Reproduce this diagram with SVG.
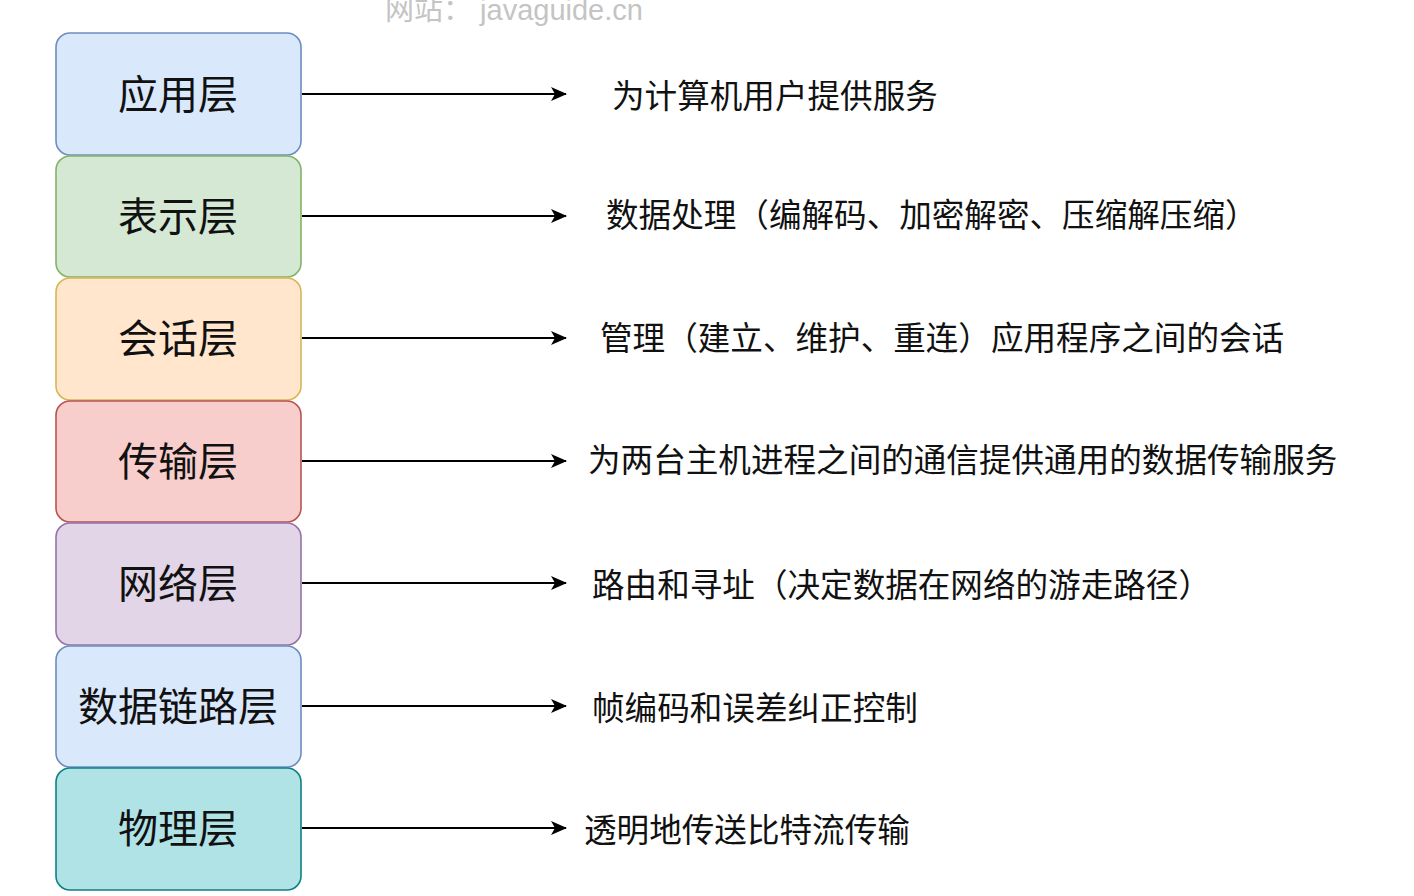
<svg xmlns="http://www.w3.org/2000/svg" width="1414" height="896" viewBox="0 0 1414 896">
<defs>
<marker id="ah" viewBox="0 0 16 14" refX="15" refY="7" markerWidth="16" markerHeight="14" markerUnits="userSpaceOnUse" orient="auto">
<path d="M0,0 L16,7 L0,14 L4,7 Z" fill="#000"/>
</marker>
</defs>
<style>
.box{stroke-width:1.6}
.lbl{font-family:"Noto Sans CJK SC","Noto Sans",sans-serif;font-size:40px;fill:#111;text-anchor:middle;dominant-baseline:central}
.desc{font-family:"Noto Sans CJK SC","Noto Sans",sans-serif;font-size:32.6px;fill:#111;dominant-baseline:central}
.wm{font-family:"Liberation Sans","Noto Sans CJK SC",sans-serif;font-size:29px;fill:#c4c4c4}
.conn{stroke:#000;stroke-width:2;fill:none;marker-end:url(#ah)}
</style>
<rect width="1414" height="896" fill="#fff"/>
<text class="wm" x="385" y="20">网站： javaguide.cn</text>
<g id="n1"><rect class="box" x="56" y="33" width="245" height="122" rx="14" fill="#dae8fc" stroke="#6c8ebf"/><text class="lbl" x="178" y="92">应用层</text></g>
<g id="n2"><rect class="box" x="56" y="156" width="245" height="121" rx="14" fill="#d5e8d4" stroke="#82b366"/><text class="lbl" x="178" y="214">表示层</text></g>
<g id="n3"><rect class="box" x="56" y="278" width="245" height="122" rx="14" fill="#ffe6cc" stroke="#d6b656"/><text class="lbl" x="178" y="336">会话层</text></g>
<g id="n4"><rect class="box" x="56" y="401" width="245" height="121" rx="14" fill="#f8cecc" stroke="#b85450"/><text class="lbl" x="178" y="459">传输层</text></g>
<g id="n5"><rect class="box" x="56" y="523" width="245" height="122" rx="14" fill="#e1d5e7" stroke="#9673a6"/><text class="lbl" x="178" y="581">网络层</text></g>
<g id="n6"><rect class="box" x="56" y="646" width="245" height="121" rx="14" fill="#dae8fc" stroke="#6c8ebf"/><text class="lbl" x="178" y="704">数据链路层</text></g>
<g id="n7"><rect class="box" x="56" y="768" width="245" height="122" rx="14" fill="#b0e3e6" stroke="#0e8088"/><text class="lbl" x="178" y="826">物理层</text></g>
<g id="connectors">
<line class="conn" x1="302" y1="94" x2="566" y2="94"/>
<line class="conn" x1="302" y1="216" x2="566" y2="216"/>
<line class="conn" x1="302" y1="338" x2="566" y2="338"/>
<line class="conn" x1="302" y1="461" x2="566" y2="461"/>
<line class="conn" x1="302" y1="583" x2="566" y2="583"/>
<line class="conn" x1="302" y1="706" x2="566" y2="706"/>
<line class="conn" x1="302" y1="828" x2="566" y2="828"/>
</g>
<g id="labels">
<text class="desc" x="612" y="93">为计算机用户提供服务</text>
<text class="desc" x="606" y="212">数据处理（编解码、加密解密、压缩解压缩）</text>
<text class="desc" x="600" y="335">管理（建立、维护、重连）应用程序之间的会话</text>
<text class="desc" x="588" y="457">为两台主机进程之间的通信提供通用的数据传输服务</text>
<text class="desc" x="592" y="582">路由和寻址（决定数据在网络的游走路径）</text>
<text class="desc" x="592" y="705">帧编码和误差纠正控制</text>
<text class="desc" x="584" y="827">透明地传送比特流传输</text>
</g>
</svg>
